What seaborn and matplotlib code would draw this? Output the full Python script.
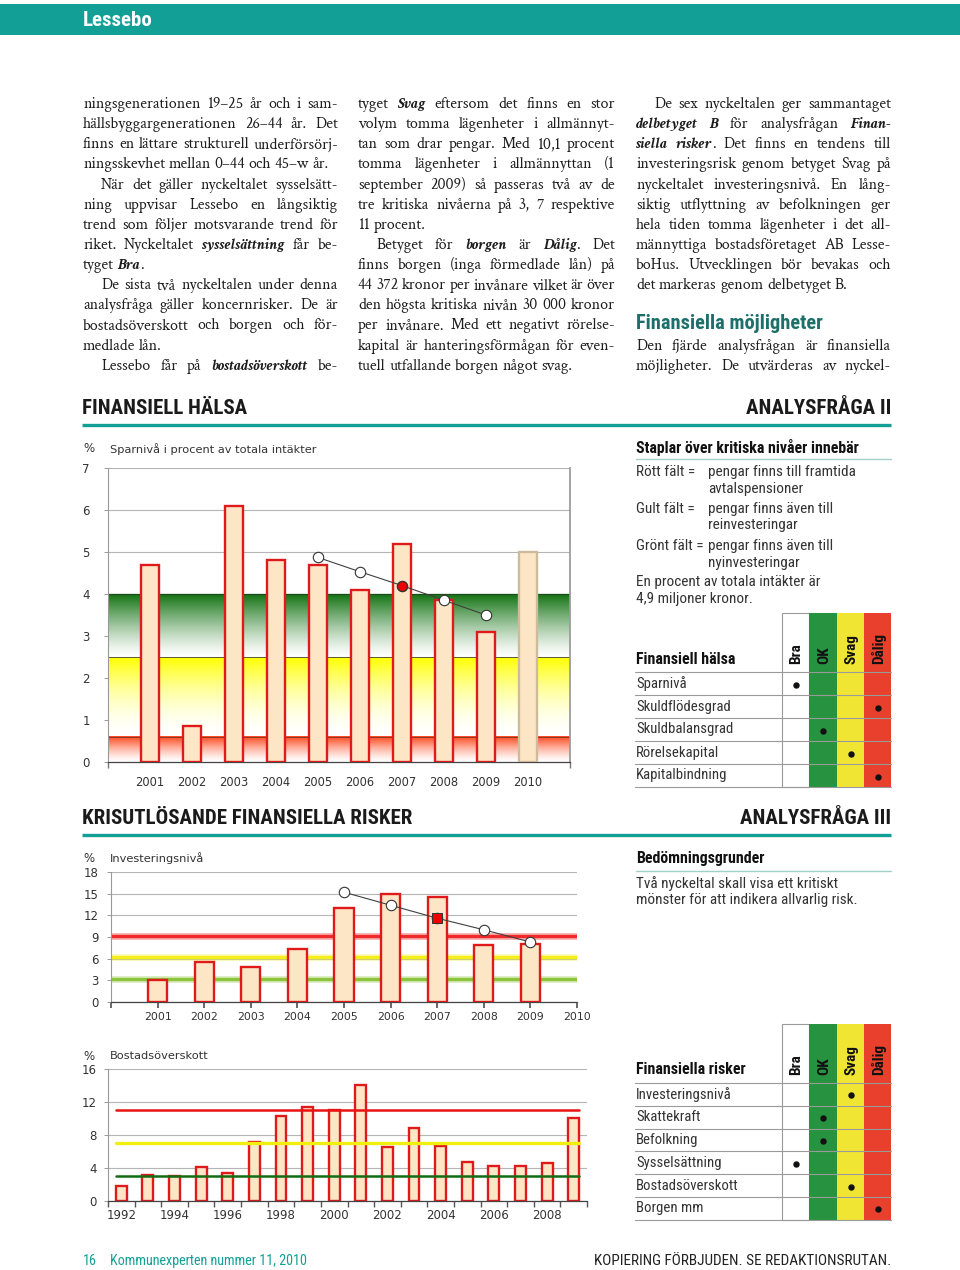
import re
import numpy as np
import pandas as pd
import matplotlib
matplotlib.use("Agg")
import matplotlib.pyplot as plt
import matplotlib.colors as mcolors
from matplotlib import font_manager
from matplotlib.patches import Rectangle
import seaborn as sns

sns.set_theme(style="white")
plt.rcParams["font.family"] = ["DejaVu Sans"]

# ---- data ----
spar_years = [str(y) for y in range(2001, 2011)]
spar_values = [4.7, 0.85, 6.1, 4.8, 4.7, 4.1, 5.2, 3.85, 3.1, 5.0]
spar_trend_years = ["2005", "2006", "2007", "2008", "2009"]
spar_trend = [4.87, 4.53, 4.2, 3.85, 3.5]

inv_years = [str(y) for y in range(2001, 2011)]
inv_values = [3.0, 5.6, 4.9, 7.4, 13.0, 15.0, 14.6, 7.9, 8.0, np.nan]
inv_trend_years = ["2005", "2006", "2007", "2008", "2009"]
inv_trend = [15.2, 13.4, 11.6, 10.0, 8.3]
inv_levels = [9.2, 6.2, 3.2]

bost_years = [str(y) for y in range(1992, 2010)]
bost_values = [1.8, 3.2, 3.0, 4.1, 3.4, 7.2, 10.3, 11.4, 11.0, 14.1,
               6.6, 8.9, 6.7, 4.7, 4.3, 4.3, 4.6, 10.1]
bost_levels = [11, 7, 3]

grades = ["Bra", "OK", "Svag", "Dålig"]
halsa_rows = ["Sparnivå", "Skuldflödesgrad", "Skuldbalansgrad",
              "Rörelsekapital", "Kapitalbindning"]
halsa_grades = ["Bra", "Dålig", "OK", "Svag", "Dålig"]
risk_rows = ["Investeringsnivå", "Skattekraft", "Befolkning",
             "Sysselsättning", "Bostadsöverskott", "Borgen mm"]
risk_grades = ["Svag", "OK", "OK", "Bra", "Svag", "Dålig"]

# body text, line by line as set in the magazine: (text, indent, justified)
col1 = [
    ("ningsgenerationen 19–25 år och i sam-", 0, True),
    ("hällsbyggargenerationen 26–44 år. Det", 0, True),
    ("finns en lättare strukturell underförsörj-", 0, True),
    ("ningsskevhet mellan 0–44 och 45–w år.", 0, False),
    ("När det gäller nyckeltalet sysselsätt-", 1, True),
    ("ning uppvisar Lessebo en långsiktig", 0, True),
    ("trend som följer motsvarande trend för", 0, True),
    ("riket. Nyckeltalet *sysselsättning* får be-", 0, True),
    ("tyget *Bra*.", 0, False),
    ("De sista två nyckeltalen under denna", 1, True),
    ("analysfråga gäller koncernrisker. De är", 0, True),
    ("bostadsöverskott och borgen och för-", 0, True),
    ("medlade lån.", 0, False),
    ("Lessebo får på *bostadsöverskott* be-", 1, True),
]
col2 = [
    ("tyget *Svag* eftersom det finns en stor", 0, True),
    ("volym tomma lägenheter i allmännyt-", 0, True),
    ("tan som drar pengar. Med 10,1 procent", 0, True),
    ("tomma lägenheter i allmännyttan (1", 0, True),
    ("september 2009) så passeras två av de", 0, True),
    ("tre kritiska nivåerna på 3, 7 respektive", 0, True),
    ("11 procent.", 0, False),
    ("Betyget för *borgen* är *Dålig*. Det", 1, True),
    ("finns borgen (inga förmedlade lån) på", 0, True),
    ("44 372 kronor per invånare vilket är över", 0, True),
    ("den högsta kritiska nivån 30 000 kronor", 0, True),
    ("per invånare. Med ett negativt rörelse-", 0, True),
    ("kapital är hanteringsförmågan för even-", 0, True),
    ("tuell utfallande borgen något svag.", 0, False),
]
col3 = [
    ("De sex nyckeltalen ger sammantaget", 1, True),
    ("*delbetyget* *B* för analysfrågan *Finan-*", 0, True),
    ("*siella* *risker*. Det finns en tendens till", 0, True),
    ("investeringsrisk genom betyget Svag på", 0, True),
    ("nyckeltalet investeringsnivå. En lång-", 0, True),
    ("siktig utflyttning av befolkningen ger", 0, True),
    ("hela tiden tomma lägenheter i det all-", 0, True),
    ("männyttiga bostadsföretaget AB Lesse-", 0, True),
    ("boHus. Utvecklingen bör bevakas och", 0, True),
    ("det markeras genom delbetyget B.", 0, False),
]
col3_tail = [
    ("Den fjärde analysfrågan är finansiella", 0, True),
    ("möjligheter. De utvärderas av nyckel-", 0, True),
]

TEAL = "#12a096"
DARKTEAL = "#1d6f6a"
BEIGE = "#fde6c6"
BAR_EDGE = "#e0191b"
GREEN = "#27923f"
YELLOW = "#f1e534"
RED = "#e8402c"
TXT = "#333333"

_names = {f.name for f in font_manager.fontManager.ttflist}
COND = "Roboto Condensed" if "Roboto Condensed" in _names else "DejaVu Sans"
SERIF = "Crimson Text" if "Crimson Text" in _names else "Liberation Serif"

W, H = 960, 1270
fig = plt.figure(figsize=(W / 100, H / 100), dpi=100)
page = fig.add_axes([0, 0, 1, 1])
page.set_xlim(0, W)
page.set_ylim(H, 0)
page.axis("off")


def px_axes(x0, y0, x1, y1):
    return fig.add_axes([x0 / W, 1 - y1 / H, (x1 - x0) / W, (y1 - y0) / H])


# ---- page furniture ----
page.add_patch(Rectangle((0, 4), W, 31, facecolor=TEAL, edgecolor="none"))
page.text(83, 20, "Lessebo", color="white", fontsize=15, fontweight="bold",
          family=COND, va="center")

for title, right, ty, ly in [("FINANSIELL HÄLSA", "ANALYSFRÅGA II", 409, 425),
                             ("KRISUTLÖSANDE FINANSIELLA RISKER", "ANALYSFRÅGA III", 819, 835)]:
    page.text(82, ty, title, fontsize=15, fontweight="bold", family=COND,
              color="#1a1a1a", va="center")
    page.text(891, ty, right, fontsize=15, fontweight="bold", family=COND,
              color="#1a1a1a", va="center", ha="right")
    page.plot([82, 891], [ly, ly], color=TEAL, lw=2.4, solid_capstyle="butt")

foot = dict(family=COND, fontsize=10.2, va="center")
page.text(83, 1261, "16", color=TEAL, **foot)
page.text(110, 1261, "Kommunexperten nummer 11, 2010", color=TEAL, **foot)
page.text(891, 1261, "KOPIERING FÖRBJUDEN. SE REDAKTIONSRUTAN.", color="#222",
          ha="right", **{**foot, "fontsize": 11})

# ---- justified body text ----
renderer = fig.canvas.get_renderer()
_wcache = {}
BODY_SIZE = 10.0


def text_width(s, bold):
    key = (s, bold, BODY_SIZE)
    if key not in _wcache:
        t = page.text(0, 0, s, family=SERIF, fontsize=BODY_SIZE,
                      fontweight="bold" if bold else "normal",
                      fontstyle="italic" if bold else "normal")
        _wcache[key] = t.get_window_extent(renderer).width
        t.remove()
    return _wcache[key]


def split_words(text):
    pieces = []
    for word in text.split():
        parts = [(m.group(1), True) if m.group(1) else (m.group(2), False)
                 for m in re.finditer(r"\*([^*]+)\*|([^*]+)", word)]
        pieces.append(parts)
    return pieces


def natural_width(text):
    pieces = split_words(text)
    space = text_width("n n", False) - text_width("nn", False)
    return sum(text_width(s, b) for p in pieces for s, b in p) + space * (len(pieces) - 1)


# pick the size at which the widest justified line just fits its column
columns = [(83, 338, col1), (358, 615, col2), (636, 891, col3 + col3_tail)]
ratios = [(x1 - x0 - ind * 18) / natural_width(s)
          for x0, x1, lines in columns for s, ind, just in lines if just]
BODY_SIZE = round(10.0 * min(ratios) * 0.985, 2)
SPACE = text_width("n n", False) - text_width("nn", False)


def draw_line(x0, x1, y, text, indent, justify):
    pieces = split_words(text)
    widths = [sum(text_width(s, b) for s, b in parts) for parts in pieces]
    start = x0 + indent * 18
    gap = SPACE
    if justify and len(pieces) > 1:
        gap = (x1 - start - sum(widths)) / (len(pieces) - 1)
    x = start
    for parts, w in zip(pieces, widths):
        xx = x
        for s, b in parts:
            page.text(xx, y, s, family=SERIF, fontsize=BODY_SIZE, color="#1e1e1e",
                      fontweight="bold" if b else "normal",
                      fontstyle="italic" if b else "normal", va="baseline")
            xx += text_width(s, b)
        x += w + gap


LINE0, LEAD = 108, 20.13
for x0, x1, lines in [(83, 338, col1), (358, 615, col2), (636, 891, col3)]:
    for k, (s, ind, just) in enumerate(lines):
        draw_line(x0, x1, LINE0 + k * LEAD, s, ind, just)
page.text(636, LINE0 + 11 * LEAD, "Finansiella möjligheter", family=COND,
          fontsize=14.7, fontweight="bold", color=DARKTEAL, va="baseline")
for k, (s, ind, just) in enumerate(col3_tail):
    draw_line(636, 891, LINE0 + (12 + k) * LEAD, s, ind, just)

# ---- right column notes ----
side = dict(family=COND, fontsize=11, color=TXT, va="center")
rowtxt = dict(family=COND, fontsize=10.6, color=TXT, va="center")
head = dict(family=COND, fontsize=11.4, fontweight="bold", color="#111", va="center")
page.text(636, 447, "Staplar över kritiska nivåer innebär", **head)
page.plot([636, 891], [459, 459], color="#9fd0ca", lw=1)
notes = [("Rött fält =", ["pengar finns till framtida", "avtalspensioner"], 472),
         ("Gult fält =", ["pengar finns även till", "reinvesteringar"], 509),
         ("Grönt fält =", ["pengar finns även till", "nyinvesteringar"], 546)]
for lab, rows, y in notes:
    page.text(636, y, lab, **side)
    for i, r in enumerate(rows):
        page.text(708, y + 16.5 * i, r, **side)
page.text(636, 582, "En procent av totala intäkter är", **side)
page.text(636, 599, "4,9 miljoner kronor.", **side)

page.text(636, 858, "Bedömningsgrunder", **head)
page.plot([636, 891], [871, 871], color="#9fd0ca", lw=1)
page.text(636, 884, "Två nyckeltal skall visa ett kritiskt", **side)
page.text(636, 900, "mönster för att indikera allvarlig risk.", **side)


# ---- grade tables ----
def grade_table(top, title_y, head_line, row_h, title, rows, row_grades):
    cols_x = [782, 809, 837, 864, 891]
    fills = ["white", GREEN, YELLOW, RED]
    bottom = head_line + row_h * len(rows)
    for i, c in enumerate(fills):
        page.add_patch(Rectangle((cols_x[i], top), cols_x[i + 1] - cols_x[i], bottom - top,
                                 facecolor=c, edgecolor="#9a9a9a" if i == 0 else "none",
                                 lw=0.8, zorder=1))
        page.text((cols_x[i] + cols_x[i + 1]) / 2 + 1, head_line - 8, grades[i], rotation=90,
                  ha="center", va="bottom", family=COND, fontsize=11,
                  fontweight="bold", color="#111", zorder=3)
    page.text(636, title_y, title, **head)
    for k in range(len(rows) + 1):
        y = head_line + k * row_h
        page.plot([635, 891], [y, y], color="#9a9a9a", lw=0.8, zorder=2)
    for k, (name, g) in enumerate(zip(rows, row_grades)):
        yc = head_line + (k + 0.5) * row_h
        page.text(636, yc, name, **rowtxt)
        j = grades.index(g)
        page.plot((cols_x[j] + cols_x[j + 1]) / 2, yc + 1, "o", color="#111", ms=3.6, zorder=3)


grade_table(613, 660, 672, 23, "Finansiell hälsa", halsa_rows, halsa_grades)
grade_table(1024, 1070, 1083, 22.8, "Finansiella risker", risk_rows, risk_grades)

# ---- chart titles ----
for y, s in [(449, "Sparnivå i procent av totala intäkter"), (858, "Investeringsnivå"),
             (1056, "Bostadsöverskott")]:
    page.text(83, y, "%", fontsize=8.5, color=TXT, va="center")
    page.text(110, y, s, fontsize=8.2, color=TXT, va="center")


def band(ax, y0, y1, color, x0, x1, power):
    t = np.linspace(0, 1, 256) ** power
    rgb = np.array(mcolors.to_rgb(color))
    img = 1 - t[:, None] * (1 - rgb)[None, :]
    ax.imshow(img[:, None, :], extent=(x0, x1, y0, y1), origin="lower",
              aspect="auto", zorder=1, interpolation="bilinear")


def bars(ax, years, values, zorder=3):
    df = pd.DataFrame({"year": years, "value": values})
    sns.barplot(data=df, x="year", y="value", order=years, color=BEIGE, saturation=1,
                width=0.41, edgecolor=BAR_EDGE, linewidth=1.7, errorbar=None,
                ax=ax, zorder=zorder)
    ax.set_xlabel("")
    ax.set_ylabel("")


def trend(ax, years, trend_years, values, red_marker):
    pos = [years.index(y) for y in trend_years]
    sns.lineplot(x=pos, y=values, ax=ax, color="#404040", lw=0.8, marker="o",
                 markersize=7.5, markerfacecolor="white", markeredgecolor="#333",
                 markeredgewidth=0.8, zorder=5)
    k = len(pos) // 2
    sns.scatterplot(x=[pos[k]], y=[values[k]], ax=ax, marker=red_marker, s=50,
                    color="#ee0000", edgecolor="#333", linewidth=0.7, zorder=6)


def style_axis(ax, ymax, ystep, ylab_pad):
    ax.set_ylim(0, ymax)
    ax.set_yticks(np.arange(0, ymax + 0.1, ystep))
    ax.yaxis.grid(True, color="#b5b5b5", lw=0.8)
    ax.set_axisbelow(True)
    ax.tick_params(axis="y", left=True, length=3, width=0.7, color="#999",
                   labelsize=8.5, labelcolor=TXT, pad=ylab_pad)
    for sp in ["top", "right"]:
        ax.spines[sp].set_visible(False)
    ax.spines["left"].set_color("#999")
    ax.spines["left"].set_linewidth(0.8)
    ax.spines["bottom"].set_color("#444")
    ax.spines["bottom"].set_linewidth(0.9)
    ax.set_facecolor("white")


# ---- chart 1: Sparnivå ----
ax1 = px_axes(108, 468, 570, 762)
band(ax1, 2.5, 4.0, "#137313", -1, 10, 1.3)
band(ax1, 0.6, 2.5, "#ffff00", -1, 10, 1.8)
band(ax1, 0.0, 0.6, "#ff4418", -1, 10, 1.4)
ax1.axhline(4.0, color="#1d4d1d", lw=0.9, zorder=1.5)
ax1.axhline(2.5, color="#5a5a3a", lw=0.7, zorder=1.5)
ax1.axhline(0.6, color="#8a3a2a", lw=0.7, zorder=1.5)
bars(ax1, spar_years, spar_values)
ax1.patches[-1].set_edgecolor("#cdbb9c")
trend(ax1, spar_years, spar_trend_years, spar_trend, "o")
style_axis(ax1, 7, 1, 10)
ax1.spines["right"].set_visible(True)
ax1.spines["right"].set_color("#999")
ax1.set_xlim(-1, 10)
ax1.set_xticks(range(len(spar_years)))
ax1.set_xticklabels(spar_years)
ax1.set_xticks([-1, 10], minor=True)
ax1.tick_params(axis="x", which="major", length=0, pad=10, labelsize=8.3, labelcolor=TXT)
ax1.tick_params(axis="x", which="minor", bottom=True, length=4, color="#777")

# ---- chart 2: Investeringsnivå ----
ax2 = px_axes(111, 872, 577, 1002)
for lv, c, g in zip(inv_levels, ["#f02a2a", "#f4ef1c", "#8cc43c"], [0.35, 0.3, 0.3]):
    ax2.axhline(lv, color=c, lw=5, alpha=g, zorder=1)
    ax2.axhline(lv, color=c, lw=2.4, zorder=1.2)
bars(ax2, inv_years, inv_values)
trend(ax2, inv_years, inv_trend_years, inv_trend, "s")
style_axis(ax2, 18, 3, 6)
ax2.set_xlim(-1, 9)
ax2.set_xticks(range(-1, len(inv_years)))
ax2.set_xticklabels([""] + inv_years)
ax2.tick_params(axis="x", bottom=True, length=4, color="#555", pad=3,
                labelsize=7.8, labelcolor=TXT)

# ---- chart 3: Bostadsöverskott ----
ax3 = px_axes(108, 1069, 587, 1201)
bars(ax3, bost_years, bost_values, zorder=2)
for lv, c, lw in zip(bost_levels, ["#e81212", "#f2ee10", "#136b13"], [1.8, 2.4, 1.8]):
    ax3.plot([-0.2, len(bost_years) - 0.8], [lv, lv], color=c, lw=lw, zorder=4)
style_axis(ax3, 16, 4, 5)
ax3.set_xlim(-0.5, len(bost_years) - 0.5)
ax3.set_xticks(range(0, len(bost_years), 2))
ax3.set_xticklabels(bost_years[::2])
ax3.set_xticks(np.arange(-0.5, len(bost_years), 1), minor=True)
ax3.tick_params(axis="x", which="major", length=0, pad=6, labelsize=8.5, labelcolor=TXT)
ax3.tick_params(axis="x", which="minor", bottom=True, length=4, color="#555")

fig.savefig("out.png", dpi=100)
